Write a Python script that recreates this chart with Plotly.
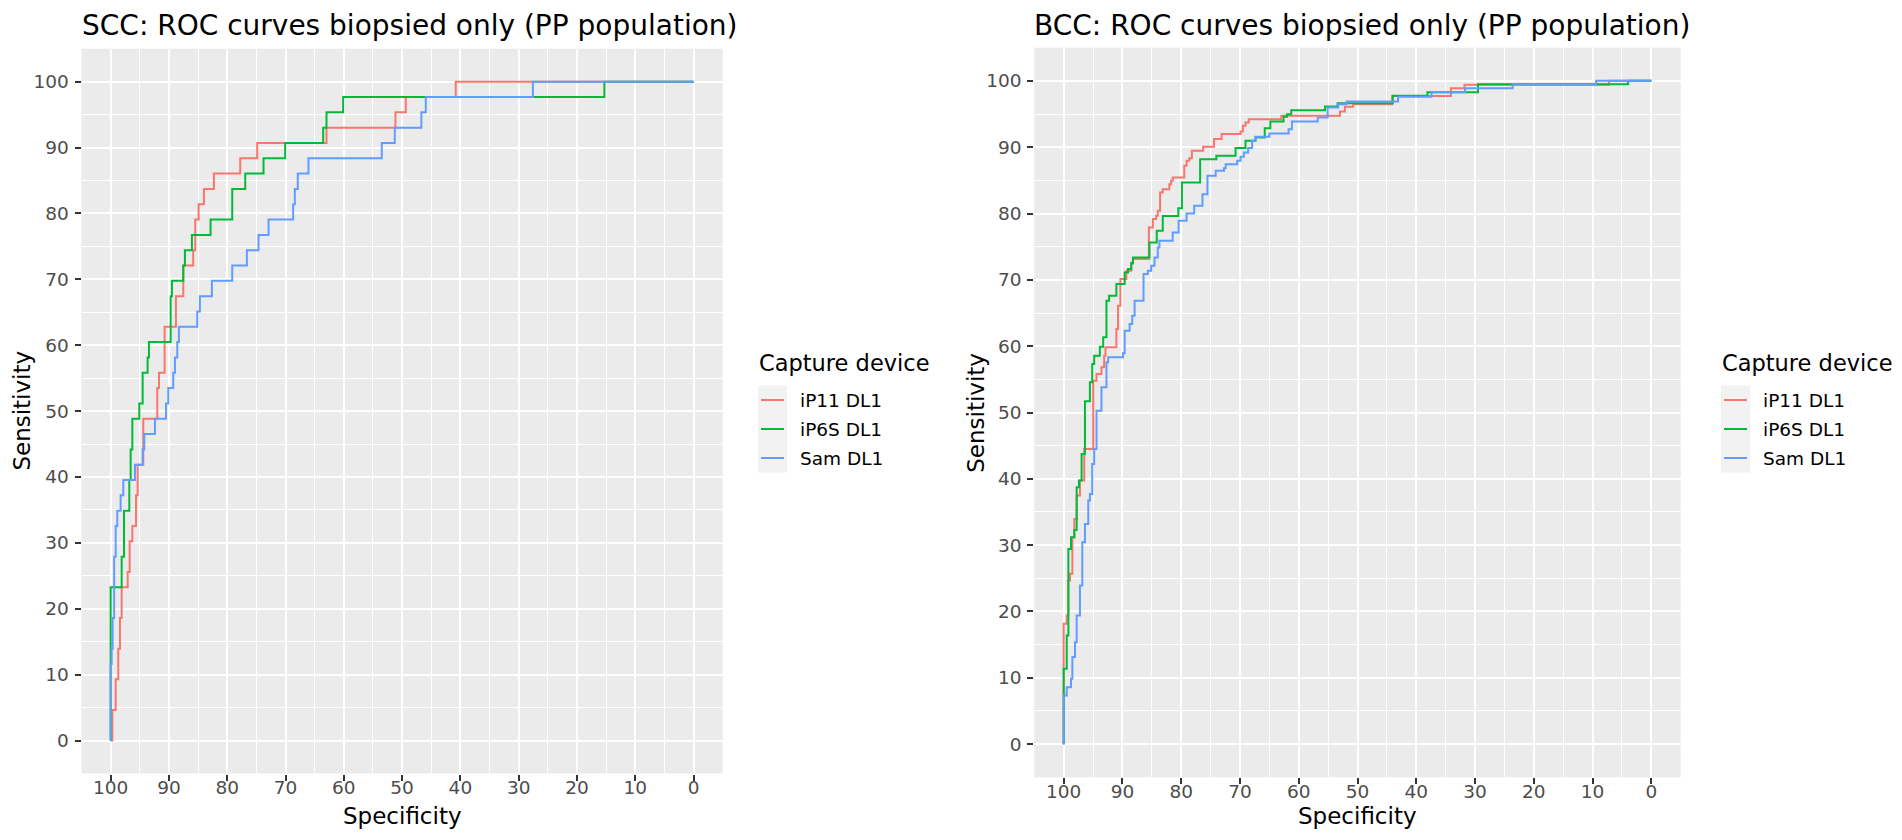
import plotly.graph_objects as go

devices = ["iP11 DL1", "iP6S DL1", "Sam DL1"]
colours = ["#F8766D", "#00BA38", "#619CFF"]

tick_vals = [0, 10, 20, 30, 40, 50, 60, 70, 80, 90, 100]
minor_vals = [5, 15, 25, 35, 45, 55, 65, 75, 85, 95]

# ROC points: specificity where a step ends and the sensitivity reached there (in %)
scc_ip11_spec = [100, 99.7, 99.14, 98.69, 98.4, 98.11, 97.08, 96.74, 96.28, 95.65, 95.37, 94.4, 92.0, 91.71,
                 90.74, 88.8, 87.54, 85.83, 85.49, 84.91, 84.0, 82.29, 77.77, 74.86, 62.97, 51.14, 49.37, 40.8, 0]
scc_ip11_sens = [0, 4.65, 9.30, 13.95, 18.60, 23.26, 25.58, 30.23, 32.56, 37.21, 41.86, 48.84, 53.49, 55.81,
                 62.79, 67.44, 72.09, 74.42, 79.07, 81.40, 83.72, 86.05, 88.37, 90.70, 93.02, 95.35, 97.67, 100, 100]

scc_ip6s_spec = [100, 100, 98.11, 97.71, 96.80, 96.57, 96.28, 95.09, 94.51, 93.66, 93.43, 89.71, 89.49, 87.54,
                 87.26, 86.06, 82.86, 79.14, 76.91, 73.77, 70.06, 63.54, 62.97, 60.11, 15.3, 0]
scc_ip6s_sens = [0, 23.26, 27.91, 34.88, 39.53, 44.19, 48.84, 51.16, 55.81, 58.14, 60.47, 67.44, 69.77, 72.09,
                 74.42, 76.74, 79.07, 83.72, 86.05, 88.37, 90.70, 93.02, 95.35, 97.67, 100, 100]

scc_sam_spec = [100, 100, 99.83, 99.66, 99.4, 99.14, 98.86, 98.29, 97.83, 95.83, 94.51, 94.23, 92.4, 90.5,
                90.11, 89.26, 88.97, 88.57, 88.29, 85.14, 84.69, 82.63, 79.14, 76.63, 74.63, 72.91, 68.69,
                68.4, 67.9, 66.06, 53.49, 51.26, 46.69, 45.94, 27.56, 0]
scc_sam_sens = [0, 11.63, 13.95, 18.60, 27.91, 32.56, 34.88, 37.21, 39.53, 41.86, 44.19, 46.51, 48.84, 51.16,
                53.49, 55.81, 58.14, 60.47, 62.79, 65.12, 67.44, 69.77, 72.09, 74.42, 76.74, 79.07, 81.40,
                83.72, 86.05, 88.37, 90.70, 93.02, 95.35, 97.67, 100, 100]

bcc_ip11_spec = [100, 100, 99.48, 99.2, 98.92, 98.52, 98.19, 97.79, 97.23, 96.5, 94.97, 94.41, 93.57, 93.11,
                 92.89, 91.03, 90.75, 90.35, 89.34, 88.5, 88.2, 85.51, 84.83, 84.27, 83.99, 83.59, 83.14,
                 82.02, 81.73, 81.45, 79.48, 79.09, 78.64, 78.19, 76.27, 74.41, 73.12, 69.91, 69.51, 69.06,
                 68.5, 62.97, 52.99, 52.15, 50.74, 44.1, 34.1, 31.8, 7.2, 0]
bcc_ip11_sens = [0, 18.14, 19.39, 24.66, 25.67, 31.19, 33.96, 37.47, 39.74, 44.51, 54.8, 55.81, 56.81, 58.57,
                 59.82, 62.58, 66.1, 70.11, 71.37, 72.63, 73.13, 77.9, 79.16, 79.66, 80.41, 83.17, 83.67,
                 84.42, 84.93, 85.43, 87.19, 87.95, 88.35, 89.46, 90.06, 91.22, 91.97, 92.37, 93.22, 93.72,
                 94.23, 94.73, 95.38, 96.08, 96.49, 97.7, 98.9, 99.4, 100, 100]

bcc_ip6s_spec = [100, 100, 99.48, 99.2, 98.75, 98.19, 97.79, 97.4, 96.95, 96.38, 95.54, 95.14, 94.81, 93.85,
                 93.28, 92.72, 92.27, 91.03, 89.62, 89.06, 88.5, 88.21, 85.4, 84.16, 83.14, 80.49, 79.88,
                 76.78, 74.02, 70.75, 69.06, 67.37, 65.79, 64.83, 62.58, 62.01, 61.28, 55.53, 53.39, 44.0,
                 38.1, 29.5, 3.95, 0]
bcc_ip6s_sens = [0, 11.36, 16.38, 29.43, 31.19, 32.3, 38.73, 39.74, 43.75, 51.69, 54.55, 57.31, 58.57, 59.92,
                 61.33, 66.85, 67.6, 69.36, 71.12, 71.62, 72.48, 73.38, 75.64, 77.4, 79.61, 80.81, 84.68,
                 88.2, 88.7, 89.86, 90.97, 91.47, 92.87, 93.87, 94.58, 94.98, 95.58, 96.13, 96.64, 97.74,
                 98.3, 99.5, 100, 100]

bcc_sam_spec = [100, 100, 99.48, 98.75, 98.52, 98.07, 97.79, 97.23, 96.83, 96.38, 95.82, 95.54, 95.14, 94.81,
                94.41, 93.57, 92.72, 92.43, 89.9, 89.62, 88.78, 88.33, 87.93, 86.41, 85.68, 85.11, 84.55,
                83.99, 83.71, 81.45, 80.44, 79.09, 77.79, 76.38, 75.54, 74.13, 72.72, 72.44, 70.47, 69.91,
                69.34, 68.61, 67.94, 67.37, 65.0, 61.73, 61.16, 56.77, 55.08, 53.28, 51.87, 43.1, 37.4,
                31.7, 23.6, 9.4, 0]
bcc_sam_sens = [0, 7.33, 8.59, 9.85, 13.12, 15.38, 19.39, 23.91, 30.44, 33.2, 36.72, 37.73, 42.24, 44.51,
                50.28, 53.8, 57.56, 58.32, 58.92, 62.33, 63.34, 64.59, 66.85, 70.87, 71.37, 72.12, 73.38,
                74.89, 75.89, 77.15, 78.9, 80.01, 81.16, 82.92, 85.68, 86.44, 86.84, 87.44, 87.95, 88.55,
                89.21, 89.86, 90.97, 91.57, 92.07, 92.72, 93.87, 94.48, 95.98, 96.49, 96.89, 97.6, 98.3,
                98.9, 99.5, 100, 100]

panels = [
    ("SCC: ROC curves biopsied only (PP population)",
     [(scc_ip11_spec, scc_ip11_sens), (scc_ip6s_spec, scc_ip6s_sens), (scc_sam_spec, scc_sam_sens)]),
    ("BCC: ROC curves biopsied only (PP population)",
     [(bcc_ip11_spec, bcc_ip11_sens), (bcc_ip6s_spec, bcc_ip6s_sens), (bcc_sam_spec, bcc_sam_sens)]),
]

# the page body keeps its default 8px margin, so the figure is drawn 8px in from the window corner
OFF = 8
W, H = 1902 - 2 * OFF, 840 - 2 * OFF
FONT = "DejaVu Sans"


def px(x):
    return (x - OFF) / W


def py(y):
    return 1 - (y - OFF) / H


# window-pixel boxes of the two panels: (left, right, top, bottom)
boxes = [(81.5, 722.7, 48.7, 773.5), (1034.3, 1680.7, 47.7, 777.3)]
legend_left = [758, 1721]
KEY = 29          # size of one legend key
KEY_TOP = 385.5   # top of the first key

fig = go.Figure()

for p, (title, curves) in enumerate(panels):
    sfx = "" if p == 0 else str(p + 1)
    for i, (spec, sens) in enumerate(curves):
        fig.add_trace(go.Scatter(
            x=spec, y=sens, mode="lines", line_shape="hv",
            line=dict(color=colours[i], width=2),
            name=devices[i], showlegend=False,
            xaxis="x" + sfx, yaxis="y" + sfx,
        ))

    l, r, t, b = boxes[p]
    common = dict(
        showgrid=True, gridcolor="white", gridwidth=2.2, zeroline=False, showline=False,
        ticks="outside", ticklen=6, tickwidth=2, tickcolor="#333333",
        tickfont=dict(family=FONT, size=18.5, color="#4D4D4D"),
        tickvals=tick_vals,
        minor=dict(tickvals=minor_vals, showgrid=True, gridcolor="white", gridwidth=1.1, ticks=""),
        automargin=False,
    )
    fig.update_layout({
        "xaxis" + sfx: dict(common, domain=[px(l), px(r)], range=[105, -5], anchor="y" + sfx,
                            ticklabelstandoff=-9),
        "yaxis" + sfx: dict(common, domain=[py(b), py(t)], range=[-5, 105], anchor="x" + sfx,
                            ticklabelstandoff=2),
    })

    # panel title, kept inside the top edge of the figure
    fig.add_annotation(text=title, xref="paper", yref="paper", x=px(l - 1), y=1,
                       xanchor="left", yanchor="top", showarrow=False, borderpad=0,
                       font=dict(family=FONT, size=28, color="black"))
    # axis titles
    fig.add_annotation(text="Specificity", xref="paper", yref="paper", x=px((l + r) / 2), y=py(816),
                       xanchor="center", yanchor="middle", showarrow=False,
                       font=dict(family=FONT, size=23, color="black"))
    fig.add_annotation(text="Sensitivity", xref="paper", yref="paper",
                       x=px(l - 59), y=py((t + b) / 2), textangle=-90,
                       xanchor="center", yanchor="middle", showarrow=False, borderpad=0,
                       font=dict(family=FONT, size=23, color="black"))

    # legend: title, grey keys with a line each, labels
    kx = legend_left[p]
    fig.add_annotation(text="Capture device", xref="paper", yref="paper", x=px(kx - 1), y=py(363),
                       xanchor="left", yanchor="middle", showarrow=False,
                       font=dict(family=FONT, size=22.5, color="black"))
    fig.add_shape(type="rect", xref="paper", yref="paper", layer="above",
                  x0=px(kx), x1=px(kx + KEY), y0=py(KEY_TOP + 3 * KEY), y1=py(KEY_TOP),
                  fillcolor="#F2F2F2", line=dict(width=0))
    for i, name in enumerate(devices):
        yc = KEY_TOP + KEY * (i + 0.5)
        fig.add_shape(type="line", xref="paper", yref="paper", layer="above",
                      x0=px(kx + 3), x1=px(kx + KEY - 3), y0=py(yc), y1=py(yc),
                      line=dict(color=colours[i], width=2))
        fig.add_annotation(text=name, xref="paper", yref="paper", x=px(kx + 40), y=py(yc),
                           xanchor="left", yanchor="middle", showarrow=False,
                           font=dict(family=FONT, size=18.5, color="black"))

fig.update_layout(
    width=W, height=H,
    margin=dict(l=0, r=0, t=0, b=0),
    paper_bgcolor="white", plot_bgcolor="#EBEBEB",
)

fig.write_html("out.html")
